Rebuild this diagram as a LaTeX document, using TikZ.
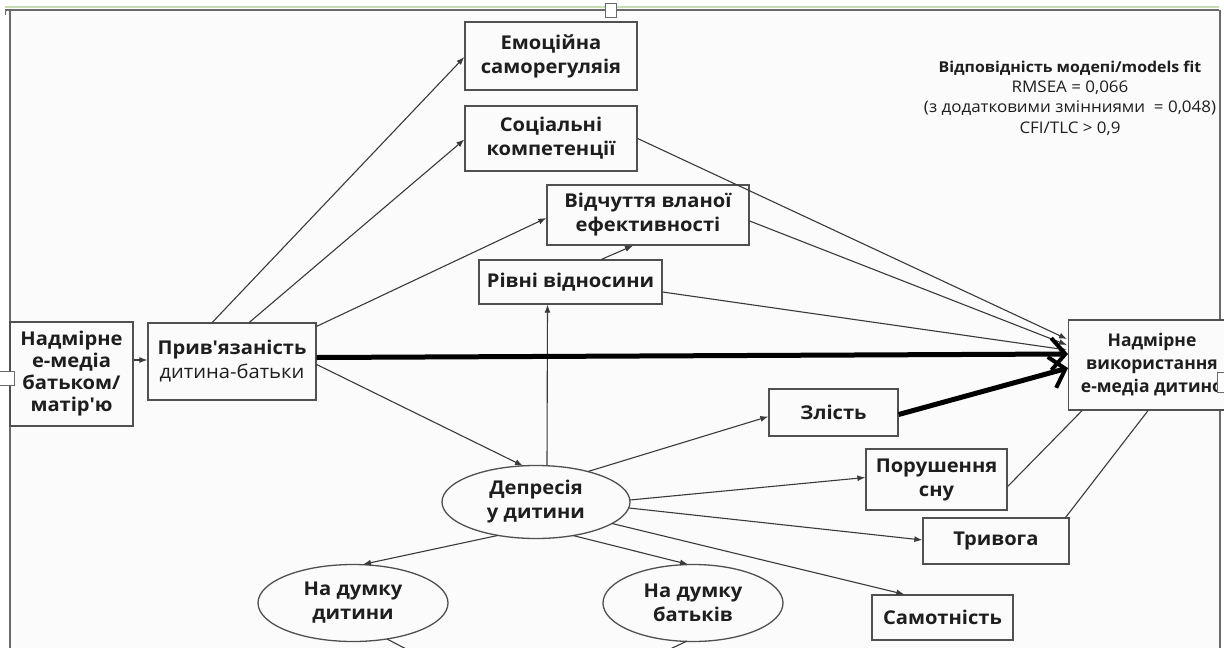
\documentclass[tikz,border=0pt]{standalone}
\usepackage{fontspec}
\setmainfont{Open Sans}[FakeStretch=1.06]
\usetikzlibrary{arrows.meta,shapes.geometric,calc}
\definecolor{ink}{HTML}{1E1E1E}
\definecolor{edgec}{HTML}{3A3A3A}
\definecolor{bord}{HTML}{505050}
\definecolor{paper}{HTML}{FBFBFB}
\definecolor{frameg}{HTML}{6A6A6A}
\definecolor{greenish}{HTML}{C9DDB4}
\tikzset{
  box/.style={draw=bord, line width=1.3pt, fill=paper, text=ink, align=center, inner sep=0pt,
    font=\fontsize{19}{24}\selectfont\bfseries},
  oval/.style={ellipse, draw=bord, line width=1.3pt, fill=paper, text=ink, align=center, inner sep=0pt,
    font=\fontsize{19}{24}\selectfont\bfseries},
  conn/.style={draw=edgec, line width=1.1pt, -{Latex[length=8pt,width=6pt]}},
  plainline/.style={draw=edgec, line width=1.1pt},
  heavy/.style={draw=black, line width=5pt, -{Straight Barb[length=14pt,width=32pt,line width=4pt]}},
  fittext/.style={text=ink, align=center, inner sep=0pt, font=\fontsize{16}{20.3}\selectfont},
  handle/.style={draw=frameg, line width=0.8pt, fill=white}
}
\begin{document}
\begin{tikzpicture}[x=1pt,y=-1pt]
\useasboundingbox (0,0) rectangle (1224,648);
\clip (0,0) rectangle (1224,648);
\fill[white] (0,0) rectangle (1224,648);
\fill[paper] (10,10) rectangle (1220,648);
% frame
\draw[greenish, line width=2pt] (5,7) -- (1219,7);
\draw[frameg, line width=1.5pt] (5,10) -- (1219,10);
\draw[frameg, line width=1.3pt] (10,10) -- (10,648);
\draw[frameg, line width=1.3pt] (1220,10) -- (1220,648);
\draw[frameg, line width=1pt] (5,10) -- (5,15);
\draw[frameg, line width=1pt] (1219,10) -- (1219,15);

% nodes
\node[box, minimum width=123pt, minimum height=104pt, font=\fontsize{19}{22}\selectfont\bfseries] (b1) at (71.5,374) {Надмірне\\е-медіа\\батьком/\\матір\textquotesingle ю};
\node[box, minimum width=168pt, minimum height=77pt] (b2) at (232,361.5) {Прив\textquotesingle язаність\\{\mdseries дитина-батьки}};
\node[box, minimum width=172pt, minimum height=68pt] (emo) at (551,56) {Емоційна\\саморегуляія};
\node[box, minimum width=172pt, minimum height=65pt] (soc) at (551,138.5) {Соціальні\\компетенції};
\node[box, minimum width=202pt, minimum height=60pt] (eff) at (648,215) {Відчуття вланої\\ефективності};
\node[box, minimum width=183pt, minimum height=44pt] (riv) at (570.5,282) {Рівні відносини};
\node[box, minimum width=172pt, minimum height=90pt, anchor=west] (tgt) at (1068,365) {};
\node[text=ink, align=center, inner sep=0pt, font=\fontsize{17.5}{23}\selectfont\addfontfeature{FakeStretch=1.0}\bfseries] (tgtt) at (1152,365) {Надмірне\\використання\\е-медіа дитино};
\node[box, minimum width=129pt, minimum height=47pt] (zl) at (833.5,412.5) {Злість};
\node[box, minimum width=141pt, minimum height=61pt] (por) at (936.5,479.5) {Порушення\\сну};
\node[box, minimum width=146pt, minimum height=46pt] (tri) at (996,541) {Тривога};
\node[box, minimum width=141pt, minimum height=45pt] (sam) at (942.5,617.5) {Самотність};
\node[oval, minimum width=188pt, minimum height=73pt] (dep) at (536,502) {Депресія\\у дитини};
\node[oval, minimum width=190pt, minimum height=77pt] (dyt) at (353,603) {На думку\\дитини};
\node[oval, minimum width=180pt, minimum height=77pt] (bat) at (693,603) {На думку\\батьків};

\node[fittext] (fit) at (1070,98) {{\fontsize{15}{20.3}\selectfont\bfseries Відповідність модепі/models fit}\\RMSEA = 0,066\\(з додатковими змінниями \ = 0,048)\\CFI/TLC > 0,9};

\coordinate (dytout) at (412,652);
\coordinate (batout) at (664,652);

% connectors
\draw[conn] ($(b1.east)+(0,-14)$) -- ($(b2.west)+(0,-1.5)$);
\draw[conn] ($(b2.north west)+(65,0)$) -- ($(emo.west)+(0,1)$);
\draw[conn] ($(b2.north west)+(102,0)$) -- ($(soc.west)+(0,1)$);
\draw[conn] ($(b2.north east)+(0,4)$) -- ($(eff.west)+(0,3)$);
\draw[conn] ($(b2.east)+(0,3)$) -- ($(dep.north)+(-13,1)$);
\draw[conn] ($(dep.north)+(11,0.5)$) -- ($(riv.south)+(-23,0)$);
\draw[conn] ($(riv.north)+(31,0)$) -- ($(eff.south)+(-15,0)$);
\draw[conn] (soc.east) -- ($(tgt.west)+(-1,-26)$);
\draw[conn] ($(eff.east)+(0,6)$) -- ($(tgt.west)+(-1,-20)$);
\draw[conn] ($(riv.east)+(0,10)$) -- ($(tgt.west)+(-1,-15)$);
\draw[conn] ($(dep.center)+(52,-30.5)$) -- ($(zl.west)+(0,4)$);
\draw[conn] ($(dep.center)+(94,-2)$) -- ($(por.west)+(0,-2)$);
\draw[conn] ($(dep.center)+(93,6)$) -- ($(tri.west)+(0,-1)$);
\draw[conn] ($(dep.center)+(76,21.5)$) -- ($(sam.north west)+(33,0)$);
\draw[conn] ($(dep.center)+(37,33.5)$) -- ($(bat.north)+(-5,0.5)$);
\draw[conn] ($(dep.center)+(-38,33.4)$) -- ($(dyt.north)+(10,0.5)$);
\draw[plainline] ($(por.east)+(0,7)$) -- ($(tgt.south west)+(14,0)$);
\draw[plainline] ($(tri.north east)+(-4,0)$) -- ($(tgt.south west)+(80,0)$);
\draw[plainline] ($(dyt.center)+(34,36)$) -- (dytout);
\draw[plainline] ($(bat.center)+(-6,38)$) -- (batout);
\draw[heavy] ($(b2.east)+(0,-4)$) -- ($(tgt.west)+(0,-11)$);
\draw[heavy] ($(zl.east)+(0,2)$) -- ($(tgt.west)+(0,3)$);

% selection handles
\draw[handle] (605,3) rectangle (616,17);
\draw[handle] (-2,371) rectangle (14,385);
\draw[handle] (1217,372) rectangle (1228,392);
\end{tikzpicture}
\end{document}
